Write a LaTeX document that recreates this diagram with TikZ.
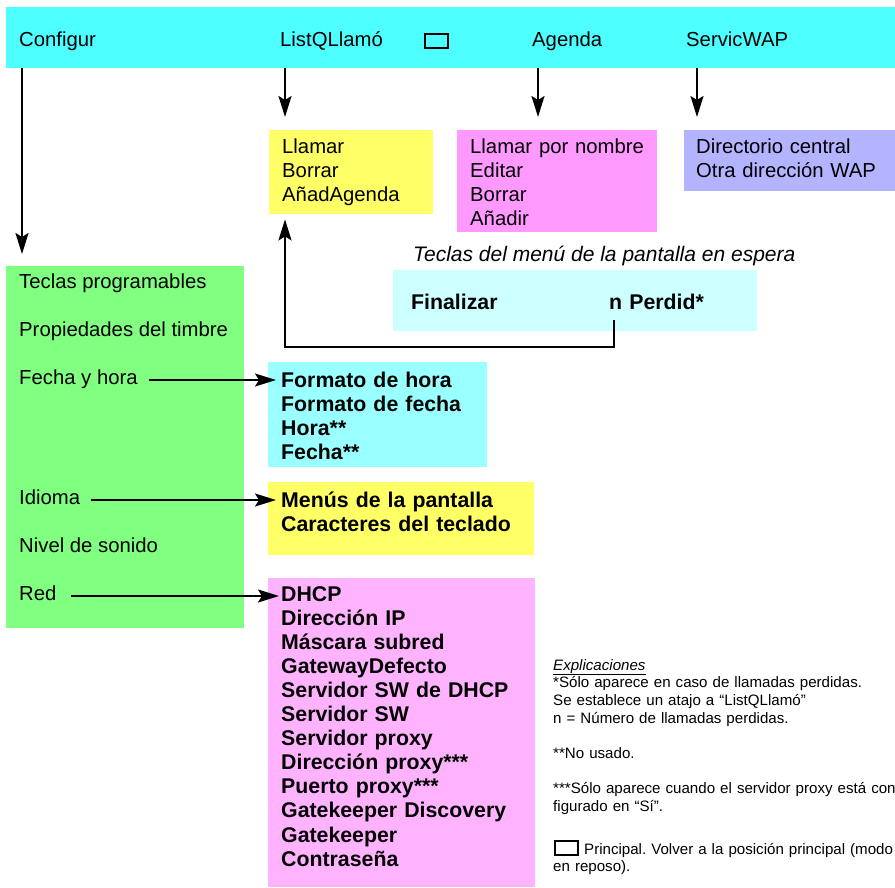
\documentclass[tikz,border=0pt]{standalone}
\usepackage{fontspec}
\setmainfont{Liberation Sans}
\usepackage{xcolor}
\usetikzlibrary{arrows.meta, positioning}
\frenchspacing

\definecolor{cianbarra}{RGB}{77,255,255}
\definecolor{amarillo}{RGB}{255,255,102}
\definecolor{rosa}{RGB}{255,153,255}
\definecolor{lila}{RGB}{179,179,255}
\definecolor{cianclaro}{RGB}{204,255,255}
\definecolor{verde}{RGB}{128,255,128}
\definecolor{cianmedio}{RGB}{153,255,255}
\definecolor{rosaclaro}{RGB}{255,179,255}

\begin{document}
\begin{tikzpicture}[x=1pt, y=-1pt,
        caja/.style args={#1/#2}{anchor=north west, inner sep=0pt, minimum width=#1pt, minimum height=#2pt},
        tecla/.style args={#1/#2}{draw, line width=2pt, anchor=north west, inner sep=0pt, minimum width=#1pt, minimum height=#2pt},
        txt/.style={anchor=base west, inner sep=0pt, font=\fontsize{20.3}{24.2}\selectfont},
        lista/.style={txt, text width=#1pt, align=left},
        negr/.style={anchor=base west, inner sep=0pt, text width=#1pt, align=left, font=\fontsize{21.3}{24.1}\selectfont\bfseries},
        nota/.style={anchor=base west, inner sep=0pt, text width=420pt, align=left, font=\fontsize{15.1}{17.7}\selectfont},
        flecha/.style={-{Stealth[length=21pt,width=13pt,inset=4pt]}, line width=2.2pt}]
        \useasboundingbox (0,0) rectangle (895,887);
        % Barra superior
        \node[caja=889/61, fill=cianbarra] (barra) at (6,7) {};
        \node[txt] (configur) at (19,46) {Configur};
        \node[txt] (listq) at (280,46) {ListQLlamó};
        \node[tecla=23/14] (principal) at (424,33) {};
        \node[txt] (agenda) at (532,46) {Agenda};
        \node[txt] (wap) at (686,46) {ServicWAP};
        % Submenus
        \node[caja=164/84, fill=amarillo] (llamar) at (269,130) {};
        \node[lista=150] (llamartxt) at (282,153) {Llamar\\Borrar\\AñadAgenda};
        \node[caja=200/102, fill=rosa] (agendabox) at (457,130) {};
        \node[lista=190] (agendatxt) at (470,153) {Llamar por nombre\\Editar\\Borrar\\Añadir};
        \node[caja=211/61, fill=lila] (wapbox) at (684,130) {};
        \node[lista=200] (waptxt) at (696,153) {Directorio central\\Otra dirección WAP};
        % Pantalla en espera
        \node[anchor=base west, inner sep=0pt, font=\fontsize{21}{24}\selectfont\itshape] (espera) at (413,261) {Teclas del menú de la pantalla en espera};
        \node[caja=364/61, fill=cianclaro] (teclas) at (393,270) {};
        \node[negr=120] (fin) at (411,309) {Finalizar};
        \node[negr=120] (perdid) at (609,309) {n Perdid*};
        \coordinate (codo) at (285,347);
        \draw[flecha, shorten >=5pt] ([xshift=5pt,yshift=-11pt]perdid.south west) |- (codo) -- (codo |- llamar.south);
        % Configuracion
        \node[caja=238/362, fill=verde] (verdebox) at (6,266) {};
        \node[txt] (teclasprog) at (19,288) {Teclas programables};
        \node[txt] (timbre) at (19,336) {Propiedades del timbre};
        \node[txt] (fecha) at (19,384) {Fecha y hora};
        \node[txt] (idioma) at (19,504) {Idioma};
        \node[txt] (sonido) at (19,552) {Nivel de sonido};
        \node[txt] (red) at (19,600) {Red};
        \node[caja=219/105, fill=cianmedio] (horabox) at (268,362) {};
        \node[negr=200] (horatxt) at (281,387) {Formato de hora\\Formato de fecha\\Hora**\\Fecha**};
        \node[caja=266/73, fill=amarillo] (idiomabox) at (268,482) {};
        \node[negr=250] (idiomatxt) at (281,507) {Menús de la pantalla\\Caracteres del teclado};
        \node[caja=267/309, fill=rosaclaro] (redbox) at (268,578) {};
        \node[negr=250] (redtxt) at (281,601) {DHCP\\Dirección IP\\Máscara subred\\GatewayDefecto\\Servidor SW de DHCP\\Servidor SW\\Servidor proxy\\Dirección proxy***\\Puerto proxy***\\Gatekeeper Discovery\\Gatekeeper\\Contraseña};
        % Flechas
        \draw[flecha, shorten >=12pt] ([xshift=3pt]configur.west |- barra.south) -- ([xshift=3pt]configur.west |- verdebox.north);
        \draw[flecha, shorten >=13pt] ([xshift=5pt]listq.west |- barra.south) -- ([xshift=5pt]listq.west |- llamar.north);
        \draw[flecha, shorten >=13pt] ([xshift=6pt]agenda.west |- barra.south) -- ([xshift=6pt]agenda.west |- agendabox.north);
        \draw[flecha, shorten >=13pt] ([xshift=11pt]wap.west |- barra.south) -- ([xshift=11pt]wap.west |- wapbox.north);
        \draw[flecha, shorten >=3pt] ([xshift=11pt,yshift=4pt]fecha.base east) -- ([xshift=11pt,yshift=4pt]fecha.base east -| horabox.west);
        \draw[flecha, shorten >=3pt] ([xshift=11pt,yshift=4pt]idioma.base east) -- ([xshift=11pt,yshift=4pt]idioma.base east -| idiomabox.west);
        \draw[flecha, shorten >=3pt] ([xshift=14pt,yshift=4pt]red.base east) -- ([xshift=14pt,yshift=4pt]red.base east -| redbox.west);
        % Explicaciones
        \node[nota] (explic) at (553,670) {\underline{\textit{Explicaciones}}\\{}*Sólo aparece en caso de llamadas perdidas.\\Se establece un atajo a “ListQLlamó”\\n = Número de llamadas perdidas.\\[17.7pt]{}**No usado.\\[17.7pt]{}***Sólo aparece cuando el servidor proxy está con\\figurado en “Sí”.};
        \node[tecla=23/14] (teclaexp) at (554,840) {};
        \node[nota] (principaltxt) at (553,854) {\hspace*{31pt}Principal. Volver a la posición principal (modo\\en reposo).};
    \end{tikzpicture}
\end{document}
